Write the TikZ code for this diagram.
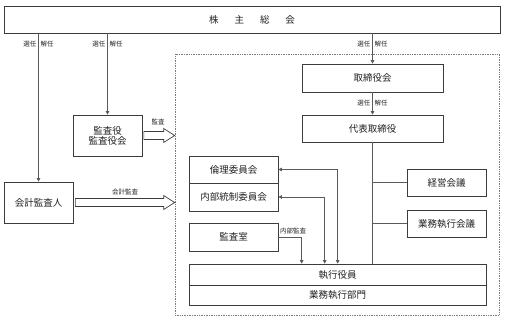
\documentclass[tikz,border=0pt]{standalone}
\usepackage{fontspec}
\setmainfont{Noto Sans CJK JP}
\usepackage{xcolor}
\definecolor{linec}{HTML}{5A5A5A}
\definecolor{boxc}{HTML}{3C3C3C}
\definecolor{txtc}{HTML}{222222}
\definecolor{dashc}{HTML}{7A7A7A}
\usetikzlibrary{arrows.meta,positioning,calc}
\tikzset{
  >={Triangle[length=3.5pt,width=3.5pt]},
  box/.style={draw=boxc,line width=0.7pt,fill=white,inner sep=1pt,text=txtc,font=\fontsize{9.5}{11}\selectfont,align=center},
  lbl/.style={font=\fontsize{6.5}{7}\selectfont,text=txtc,inner sep=1pt},
  link/.style={draw=linec,line width=0.7pt},
  dframe/.style={draw=dashc,densely dotted,line width=0.7pt},
  barrow/.style={draw=boxc,line width=0.7pt,fill=white},
}
% box from corner (x1,y1) to corner (x2,y2)
\newcommand{\orgbox}[6][]{\node[box,#1,minimum width={(#4-#2)*1pt},minimum height={(#5-#3)*1pt}] (#6) at ({(#2+#4)/2},{(#3+#5)/2}) {};}
% wide arrow from a point to the x of another
\newcommand{\bigarrow}[2]{\draw[barrow] let \p1=(#1), \p2=(#2) in
  (\x1,\y1+4pt) -- (\x2-11pt,\y1+4pt) -- (\x2-11pt,\y1+7pt) -- (\x2,\y1) -- (\x2-11pt,\y1-7pt) -- (\x2-11pt,\y1-4pt) -- (\x1,\y1-4pt) -- cycle;}
% 選任 | 解任 beside a vertical line
\newcommand{\ninkai}[2]{\node[lbl,anchor=east] at ({#1-1},#2) {選任};\node[lbl,anchor=west] at ({#1+1},#2) {解任};}

\begin{document}
\begin{tikzpicture}[x=1pt,y=-1pt]
  \useasboundingbox (0,0) rectangle (505,323);
  \node[dframe,minimum width=324pt,minimum height=261pt,inner sep=0pt] (frame) at (337,184.5) {};
  \orgbox{4}{6}{500}{33}{gm}\node[box,draw=none,fill=none] at (gm) {株\hspace{16pt}主\hspace{16pt}総\hspace{16pt}会};
  \orgbox{73}{115}{142}{156}{kansa}\node[box,draw=none,fill=none] at (kansa) {監査役\\[-1pt]監査役会};
  \orgbox{4}{182}{73}{223}{kaikei}\node[box,draw=none,fill=none] at (kaikei) {会計監査人};
  \orgbox{302}{64}{443}{92}{board}\node[box,draw=none,fill=none] at (board) {取締役会};
  \orgbox{302}{115}{443}{142}{ceo}\node[box,draw=none,fill=none] at (ceo) {代表取締役};
  \orgbox{407}{169}{486}{196}{keiei}\node[box,draw=none,fill=none] at (keiei) {経営会議};
  \orgbox{407}{210}{486}{237}{gyomu}\node[box,draw=none,fill=none] at (gyomu) {業務執行会議};
  \orgbox{189}{156}{278}{183}{rinri}\node[box,draw=none,fill=none] at (rinri) {倫理委員会};
  \orgbox{189}{183}{278}{211}{naibu}\node[box,draw=none,fill=none] at (naibu) {内部統制委員会};
  \orgbox{189}{223}{278}{251}{kshitsu}\node[box,draw=none,fill=none] at (kshitsu) {監査室};
  \orgbox{189}{264}{486}{285}{shikko}\node[box,draw=none,fill=none] at (shikko) {執行役員};
  \orgbox{189}{285}{486}{305}{bumon}\node[box,draw=none,fill=none] at (bumon) {業務執行部門};
  % appointment lines
  \draw[link,->] (gm.south -| kaikei.north) -- (kaikei.north);
  \draw[link,->] (gm.south -| kansa.north) -- (kansa.north);
  \draw[link,->] (gm.south -| board.north) -- (board.north);
  \draw[link,->] (board) -- (ceo);
  \ninkai{38.5}{44}\ninkai{107.5}{44}\ninkai{372.5}{44}\ninkai{372.5}{103}
  % ceo to meetings and officers
  \draw[link] (ceo.south) -- (ceo.south |- shikko.north);
  \draw[link] (ceo.south |- keiei.west) -- (keiei.west);
  \draw[link] (ceo.south |- gyomu.west) -- (gyomu.west);
  % committees
  \draw[link,<->] (rinri.east) -| ([xshift=149pt]shikko.north west);
  \draw[link,<->] (naibu.east) -| ([xshift=136pt]shikko.north west);
  \draw[link,->] (kshitsu.east) -| ([xshift=113pt]shikko.north west);
  \node[lbl,anchor=west] at (279,231) {内部監査};
  % audits
  \bigarrow{[xshift=1.5pt]kansa.east}{frame.west}
  \node[lbl] at (158,122) {監査};
  \bigarrow{[xshift=2pt]kaikei.east}{frame.west}
  \node[lbl] at (125,192) {会計監査};
\end{tikzpicture}
\end{document}
